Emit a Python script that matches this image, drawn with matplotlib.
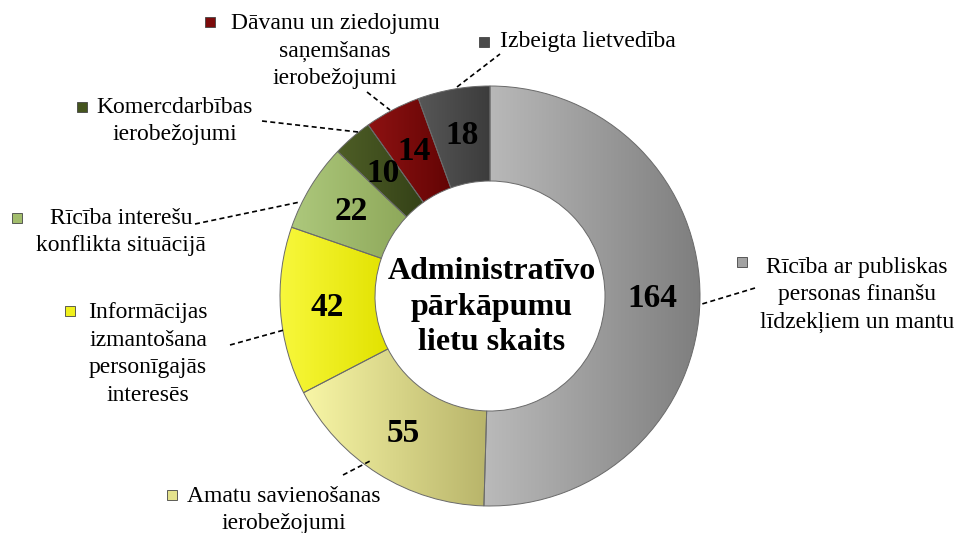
import numpy as np
import matplotlib.pyplot as plt
from matplotlib.colors import to_rgb

# data
categories = ['Rīcība ar publiskas\npersonas finanšu\nlīdzekļiem un mantu',
              'Amatu savienošanas\nierobežojumi',
              'Informācijas\nizmantošana\npersonīgajās\ninteresēs',
              'Rīcība interešu\nkonflikta situācijā',
              'Komercdarbības\nierobežojumi',
              'Dāvanu un ziedojumu\nsaņemšanas\nierobežojumi',
              'Izbeigta lietvedība']
values = [164, 55, 42, 22, 10, 14, 18]
colors = ['#a2a2a2', '#e4e28c', '#f0f01c', '#a2bd6c', '#45551e', '#7c0b0b', '#4a4a4a']
# light (left) / dark (right) shades for the gradient fill
light = ['#bababa', '#f8f6a6', '#f8f83c', '#adc87c', '#4e5e26', '#8e1212', '#575757']
dark = ['#7e7e7e', '#b8b46a', '#e2e200', '#8ea85a', '#344117', '#630404', '#3c3c3c']
center_title = 'Administratīvo\npārkāpumu\nlietu skaits'

W, H = 960, 533
plt.rcParams['font.family'] = ['Liberation Serif', 'DejaVu Serif']


def px(x, y):
    # image pixel coords -> axes data coords
    return x, H - y


fig = plt.figure(figsize=(9.6, 5.33), dpi=100)
ax = fig.add_axes([0, 0, 1, 1])

total = sum(values)
wedges, texts, autotexts = ax.pie(
    values, colors=colors, startangle=90, counterclock=False,
    center=px(490, 296), radius=210,
    wedgeprops=dict(width=95, edgecolor='#6a6a6a', linewidth=0.7),
    autopct=lambda p: '%d' % round(p * total / 100.0), pctdistance=0.775,
    textprops=dict(fontsize=24, fontweight='bold', color='black'))

# gradient fill clipped to each wedge
for w, c1, c2 in zip(wedges, light, dark):
    ext = w.get_path().get_extents()
    t = np.linspace(0, 1, 256)[None, :, None]
    grad = (1 - t) * np.array(to_rgb(c1)) + t * np.array(to_rgb(c2))
    im = ax.imshow(grad, extent=[ext.x0, ext.x1, ext.y0, ext.y1],
                   aspect='auto', zorder=0.5, interpolation='bilinear')
    im.set_clip_path(w)
    w.set_facecolor('none')

ax.set_xlim(0, W)
ax.set_ylim(0, H)
ax.set_aspect('equal')
ax.axis('off')

ax.text(*px(492, 307), center_title, ha='center', va='center',
        fontsize=23, fontweight='bold', linespacing=1.3)

# legend-like labels: (text centre, marker pos, leader line start, end)
layout = [
    ((857, 295), (742, 262), (755, 288), (702, 304)),
    ((284, 510), (172, 495), (343, 475), (372, 460)),
    ((148, 354), (70, 311), (230, 345), (284, 330)),
    ((121, 232), (17, 218), (195, 224), (300, 202)),
    ((175, 121), (82, 107), (262, 121), (358, 132)),
    ((335, 51), (210, 22), (367, 92), (390, 110)),
    ((570, 42), (484, 42), (457, 87), (500, 54)),
]
for lab, col, (tp, mp, l0, l1) in zip(categories, colors, layout):
    ha = 'center'
    tx, ty = tp
    if lab.startswith('Izbeigta'):
        ha = 'left'
        tx = 500
    ax.text(*px(tx, ty), lab, ha=ha, va='center', fontsize=17,
            linespacing=1.4, multialignment='center')
    ax.plot(*px(*mp), marker='s', markersize=7, color=col,
            markeredgecolor='#444444', markeredgewidth=0.6)
    ax.plot([l0[0], l1[0]], [H - l0[1], H - l1[1]], color='black',
            linestyle=(0, (3, 2)), linewidth=1.2)

fig.savefig('out.png', dpi=100)
